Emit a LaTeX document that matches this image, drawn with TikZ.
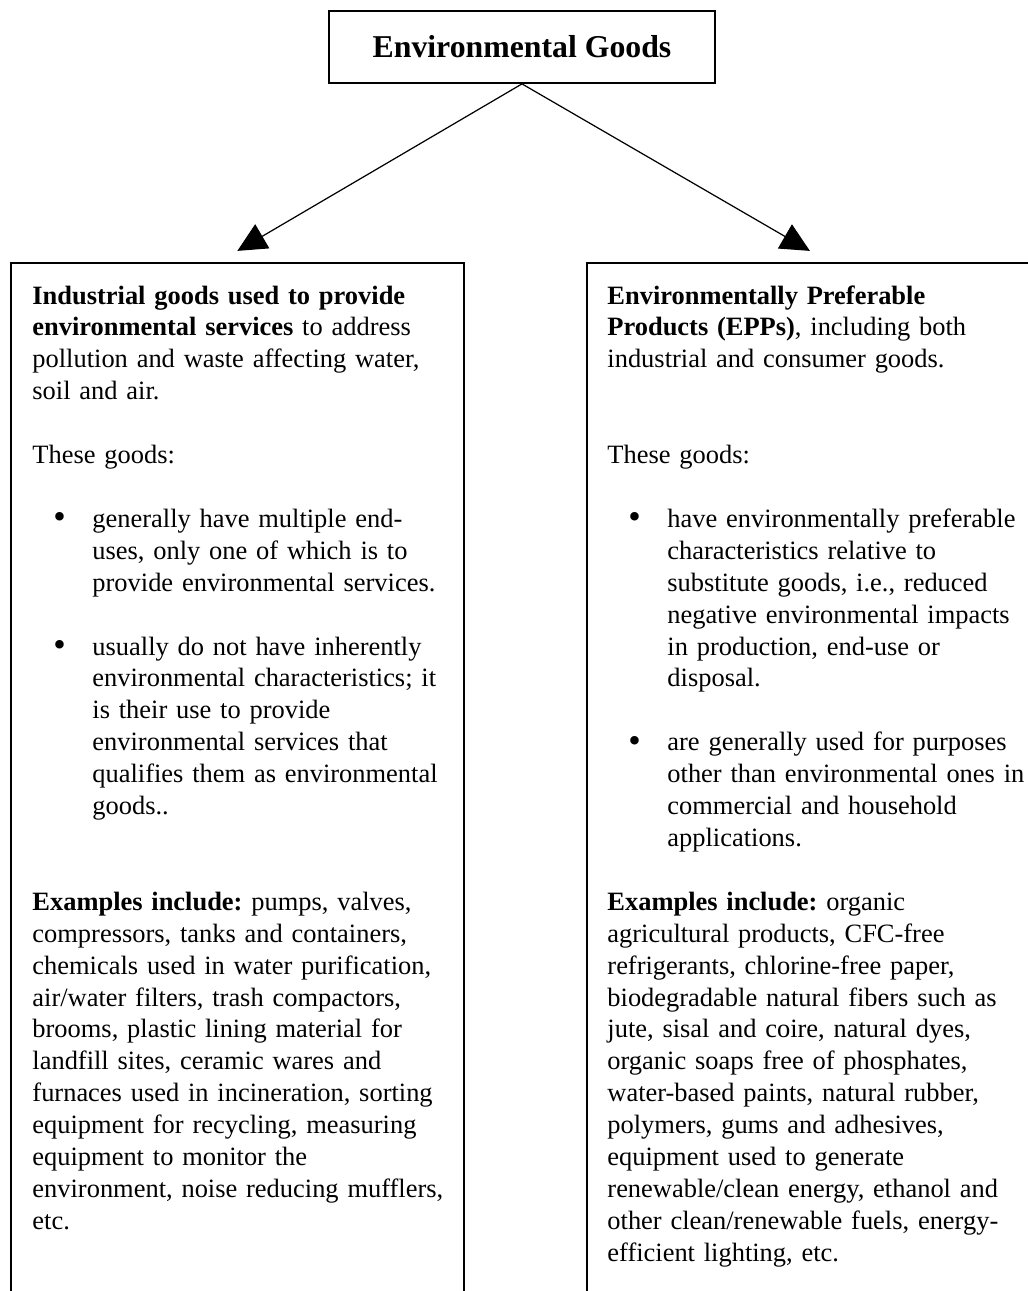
\documentclass[tikz,border=0pt]{standalone}
\usepackage{fontspec}
\setmainfont{Liberation Serif}
\usetikzlibrary{arrows.meta}

\newcommand{\bulletpar}{\par\leavevmode\hangindent=27pt\hangafter=1\hspace*{9.4pt}\makebox[17.6pt][l]{\raisebox{-0.6pt}{\fontsize{16}{16}\selectfont\textbullet}}}
\newcommand{\blankrow}{\par\vspace{\baselineskip}}

\tikzset{
  goodsbox/.style={draw, line width=0.8pt, inner sep=0pt},
  titlebox/.style={goodsbox, minimum width=173.7pt, minimum height=32.4pt, font=\bfseries\fontsize{14.3}{17}\selectfont},
  listbox/.style={goodsbox, anchor=north west, minimum height=480pt},
  bodytext/.style={anchor=base west, inner sep=0pt, text width=200pt, font=\frenchspacing\fontsize{11.9}{14.36}\selectfont},
  linkarrow/.style={-{Triangle[length=13pt,width=12.5pt]}, line width=0.55pt}
}

\begin{document}
\begin{tikzpicture}[x=0.45pt,y=0.45pt]
  \useasboundingbox (0,0) rectangle (1028,-1291);
  \clip (0,0) rectangle (1028,-1291);
  % boxes
  \node[titlebox] (title) at (522,-47) {Environmental Goods};
  \node[listbox, minimum width=203.85pt] (indbox) at (10,-262) {};
  \node[listbox, minimum width=200.7pt] (eppbox) at (586,-262) {};
  % links
  \draw[linkarrow] (title.south) -- ([yshift=5pt]indbox.north);
  \draw[linkarrow] (title.south) -- ([yshift=5pt]eppbox.north);
  % left column
  \node[bodytext] (indtext) at (32,-304) {%
    \textbf{Industrial goods used to provide}\newline
    \textbf{environmental services} to address\newline
    pollution and waste affecting water,\newline
    soil and air.
    \blankrow
    These goods:
    \blankrow
    \bulletpar generally have multiple end-\newline
    uses, only one of which is to\newline
    provide environmental services.
    \blankrow
    \bulletpar usually do not have inherently\newline
    environmental characteristics; it\newline
    is their use to provide\newline
    environmental services that\newline
    qualifies them as environmental\newline
    goods..
    \blankrow\vspace{\baselineskip}
    \textbf{Examples include:} pumps, valves,\newline
    compressors, tanks and containers,\newline
    chemicals used in water purification,\newline
    air/water filters, trash compactors,\newline
    brooms, plastic lining material for\newline
    landfill sites, ceramic wares and\newline
    furnaces used in incineration, sorting\newline
    equipment for recycling, measuring\newline
    equipment to monitor the\newline
    environment, noise reducing mufflers,\newline
    etc.};
  % right column
  \node[bodytext] (epptext) at (607,-304) {%
    \textbf{Environmentally Preferable}\newline
    \textbf{Products (EPPs)}, including both\newline
    industrial and consumer goods.
    \blankrow\vspace{\baselineskip}
    These goods:
    \blankrow
    \bulletpar have environmentally preferable\newline
    characteristics relative to\newline
    substitute goods, i.e., reduced\newline
    negative environmental impacts\newline
    in production, end-use or\newline
    disposal.
    \blankrow
    \bulletpar are generally used for purposes\newline
    other than environmental ones in\newline
    commercial and household\newline
    applications.
    \blankrow
    \textbf{Examples include:} organic\newline
    agricultural products, CFC-free\newline
    refrigerants, chlorine-free paper,\newline
    biodegradable natural fibers such as\newline
    jute, sisal and coire, natural dyes,\newline
    organic soaps free of phosphates,\newline
    water-based paints, natural rubber,\newline
    polymers, gums and adhesives,\newline
    equipment used to generate\newline
    renewable/clean energy, ethanol and\newline
    other clean/renewable fuels, energy-\newline
    efficient lighting, etc.};
\end{tikzpicture}
\end{document}
